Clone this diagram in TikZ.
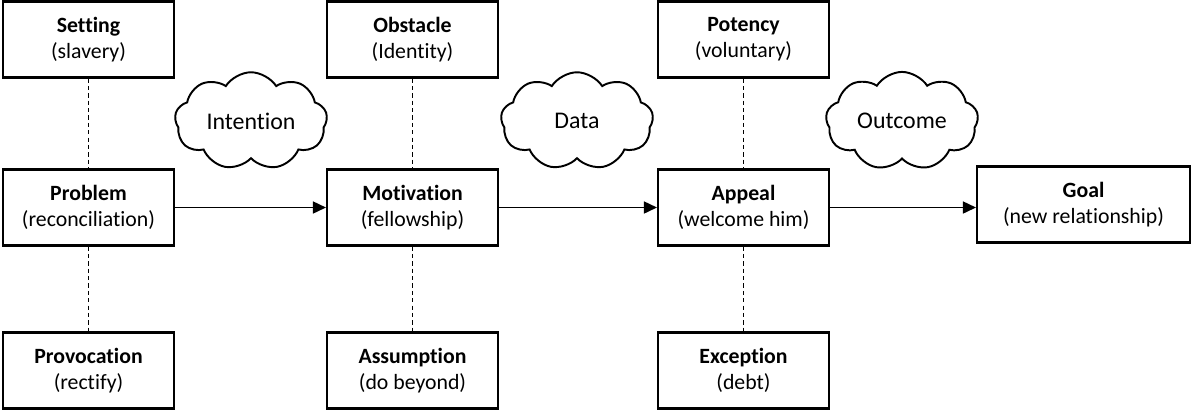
\documentclass[tikz,border=0pt]{standalone}
\usepackage{fontspec}
\setmainfont{Carlito}[Ligatures=NoCommon]
\usepackage{tikz}
\usetikzlibrary{shapes.symbols}
\usetikzlibrary{arrows.meta}
\tikzstyle{block}=[draw, line width=1.2pt, align=center, inner sep=0pt, minimum width=3.42cm, minimum height=1.52cm, font=\fontsize{12.4}{14.8}\selectfont]
\tikzstyle{goalblock}=[block, minimum width=4.26cm]
\tikzstyle{thought}=[draw, line width=1.1pt, cloud, cloud puffs=9, cloud puff arc=115, aspect=1.6, inner sep=0pt, minimum width=3.05cm, minimum height=1.95cm, font=\fontsize{13.6}{16}\selectfont]
\tikzstyle{link}=[line width=0.8pt, dash pattern=on 2.4pt off 1.8pt]
\tikzstyle{flow}=[line width=0.9pt, -{Triangle[length=2.6mm, width=2.4mm]}]

\begin{document}
\begin{tikzpicture}[x=0.02cm, y=-0.02cm]
        \useasboundingbox (0, 0) rectangle (1192, 410);
        \node[block] (setting) at (88.5, 39.5) {\textbf{Setting}\\(slavery)};
        \node[block] (problem) at (88.5, 207.5) {\textbf{Problem}\\(reconciliation)};
        \node[block] (provocation) at (88.5, 370.5) {\textbf{Provocation}\\(rectify)};
        \node[block] (obstacle) at (412.5, 39.5) {\textbf{Obstacle}\\(Identity)};
        \node[block] (motivation) at (412.5, 207.5) {\textbf{Motivation}\\(fellowship)};
        \node[block] (assumption) at (412.5, 370.5) {\textbf{Assumption}\\(do beyond)};
        \node[block] (potency) at (743.5, 39.5) {\textbf{Potency}\\(voluntary)};
        \node[block] (appeal) at (743.5, 207.5) {\textbf{Appeal}\\(welcome him)};
        \node[block] (exception) at (743.5, 370.5) {\textbf{Exception}\\(debt)};
        \node[goalblock] (goal) at (1083.5, 204.5) {\textbf{Goal}\\(new relationship)};
        \node[thought] (intention) at (251, 121) {Intention};
        \node[thought] (data) at (577, 121) {Data};
        \node[thought] (outcome) at (902, 121) {Outcome};
        \draw[link] (setting) -- (problem) -- (provocation);
        \draw[link] (obstacle) -- (motivation) -- (assumption);
        \draw[link] (potency) -- (appeal) -- (exception);
        \draw[flow] (problem) -- (motivation);
        \draw[flow] (motivation) -- (appeal);
        \draw[flow] (appeal.east) -- (goal.west |- appeal.east);
    \end{tikzpicture}
\end{document}
